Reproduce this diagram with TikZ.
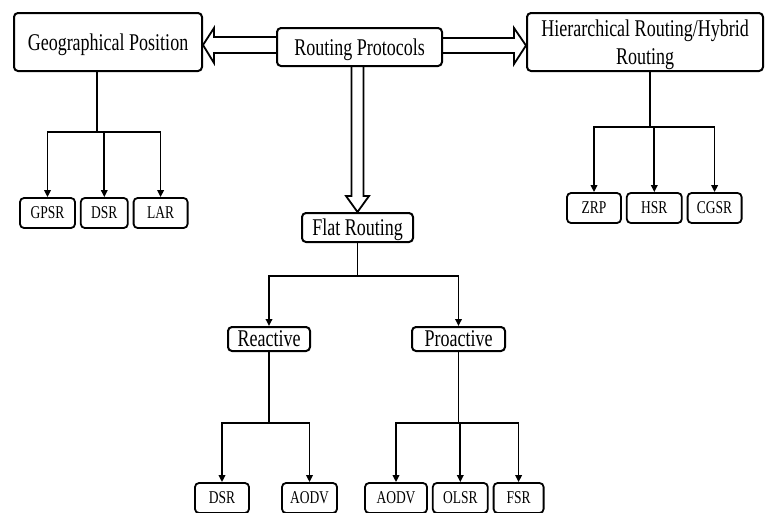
\documentclass[tikz,border=0pt]{standalone}
\usepackage{fontspec}
\newfontfamily\condserif{Liberation Serif}[FakeStretch=0.75]
\usetikzlibrary{arrows.meta, positioning, calc}

\begin{document}
\begin{tikzpicture}[
    x=1pt, y=-1pt,
    box/.style={rectangle, draw, line width=2pt, rounded corners=4pt, inner sep=0pt, align=center, text depth=0pt, font=\condserif\fontsize{24}{28}\selectfont},
    leaf/.style={box, minimum height=30pt, line width=1.8pt, font=\condserif\fontsize{18}{20}\selectfont},
    conn/.style={line width=1.7pt},
    arrow/.style={conn, -{Triangle[length=7pt, width=6.5pt]}},
    hollow/.style={line width=1.8pt, line join=miter}
]
    \clip (0,0) rectangle (765,512);

    % top row
    \node[box, minimum width=188pt, minimum height=58pt] (geo) at (108,42) {Geographical Position};
    \node[box, minimum width=165pt, minimum height=38pt] (proto) at (359.5,47) {Routing Protocols};
    \node[box, minimum width=236pt, minimum height=58pt] (hier) at (645,42) {Hierarchical Routing/Hybrid\\Routing};

    % flat routing
    \node[box, minimum width=111pt, minimum height=29pt] (flat) at (357.5,227.5) {Flat Routing};
    \node[box, minimum width=82pt, minimum height=24pt] (reactive) at (269,339) {Reactive};
    \node[box, minimum width=93pt, minimum height=24pt] (proactive) at (458.5,339) {Proactive};

    % leaves
    \node[leaf, minimum width=55pt] (gpsr) at (47.5,213) {GPSR};
    \node[leaf, minimum width=47pt, right=4pt of gpsr] (gdsr) {DSR};
    \node[leaf, minimum width=54pt, right=4pt of gdsr] (lar) {LAR};

    \node[leaf, minimum width=54pt] (zrp) at (594,208) {ZRP};
    \node[leaf, minimum width=55pt, right=4pt of zrp] (hsr) {HSR};
    \node[leaf, minimum width=54pt, right=4pt of hsr] (cgsr) {CGSR};

    \node[leaf, minimum width=54pt] (rdsr) at (222,498) {DSR};
    \node[leaf, minimum width=55pt] (raodv) at (309.5,498) {AODV};
    \node[leaf, minimum width=62pt] (paodv) at (396,498) {AODV};
    \node[leaf, minimum width=55pt, right=4pt of paodv] (olsr) {OLSR};
    \node[leaf, minimum width=50pt, right=4pt of olsr] (fsr) {FSR};

    % hollow arrows
    \draw[hollow] let \p1=(proto.west), \p2=(geo.east) in
        (\x1,\y1+10pt) -- (\x2+11pt,\y1+10pt) -- (\x2+11pt,\y1+19pt) -- (\x2,\y1+2pt)
        -- (\x2+11pt,\y1-16pt) -- (\x2+11pt,\y1-6pt) -- (\x1,\y1-6pt);
    \draw[hollow] let \p1=(proto.east), \p2=(hier.west) in
        (\x1,\y1+9pt) -- (\x2-12pt,\y1+9pt) -- (\x2-12pt,\y1+19pt) -- (\x2,\y1+1.5pt)
        -- (\x2-12pt,\y1-17pt) -- (\x2-12pt,\y1-6pt) -- (\x1,\y1-6pt);
    \draw[hollow] let \p1=(proto.south), \p2=(flat.north) in
        (\x2-6pt,\y1) -- (\x2-6pt,\y2+16pt) -- (\x2-11.5pt,\y2+16pt) -- (\x2,\y2)
        -- (\x2+11.5pt,\y2+16pt) -- (\x2+6pt,\y2+16pt) -- (\x2+6pt,\y1);

    % trees
    \coordinate (gj) at (97,132);
    \draw[conn] (geo.south -| gj) -- (gj);
    \draw[arrow] (gj) -| (gpsr.north);
    \draw[arrow] (gj) -| (gdsr.north);
    \draw[arrow] (gj) -| (lar.north);

    \coordinate (hj) at (650,127);
    \draw[conn] (hier.south -| hj) -- (hj);
    \draw[arrow] (hj) -| (zrp.north);
    \draw[arrow] (hj) -| (hsr.north);
    \draw[arrow] (hj) -| (cgsr.north);

    \coordinate (fj) at (357.5,276);
    \draw[conn] (flat) -- (fj);
    \draw[arrow] (fj) -| (reactive.north);
    \draw[arrow] (fj) -| (proactive.north);

    \coordinate (rj) at (269,423);
    \draw[conn] (reactive) -- (rj);
    \draw[arrow] (rj) -| (rdsr.north);
    \draw[arrow] (rj) -| (raodv.north);

    \coordinate (pj) at (458.5,423);
    \draw[conn] (proactive) -- (pj);
    \draw[arrow] (pj) -| (paodv.north);
    \draw[arrow] (pj) -| (olsr.north);
    \draw[arrow] (pj) -| (fsr.north);
\end{tikzpicture}
\end{document}
